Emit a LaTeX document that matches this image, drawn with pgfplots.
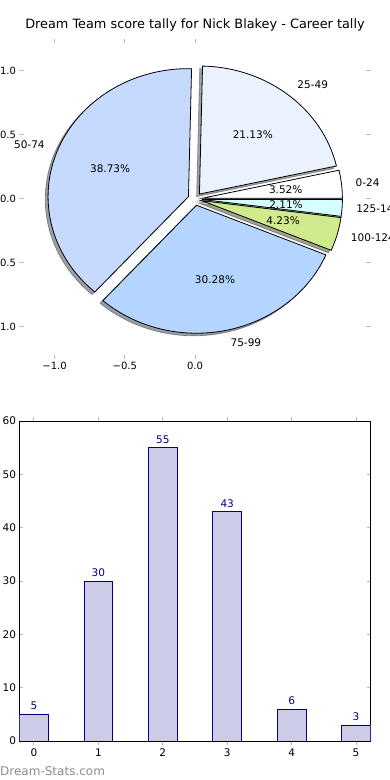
\documentclass[border=0pt]{standalone}
\usepackage{pgfplots}
\usepackage{pgfplotstable}
\pgfplotsset{compat=1.18}
\usepackage{fontspec}
\setmainfont{DejaVu Sans}

\definecolor{c0}{HTML}{FFFFFF}
\definecolor{c1}{HTML}{EBF2FF}
\definecolor{c2}{HTML}{C6D9FF}
\definecolor{c3}{HTML}{B4D5FF}
\definecolor{c4}{HTML}{CFEB8D}
\definecolor{c5}{HTML}{D6FFFF}
\definecolor{barfill}{HTML}{CCCCE6}
\definecolor{navy}{HTML}{000080}
\definecolor{tickgray}{HTML}{BBBBBB}
\definecolor{wmgray}{HTML}{8C8C8C}

\pgfplotstableread{
x count label
0 5 0-24
1 30 25-49
2 55 50-74
3 43 75-99
4 6 100-124
5 3 125-149
}\datatable

\newcommand\cs[1]{\csname #1\endcsname}
\newcommand\shadowslice[1]{%
  \edef\temp{\noexpand\filldraw[fill=c#1!30!black, draw=c#1!30!black, opacity=0.5, line width=0.8pt]
    (axis cs:{\cs{cx#1}-0.02},{\cs{cy#1}-0.02}) -- (axis cs:{\cs{px#1}-0.02},{\cs{py#1}-0.02})
    arc[start angle=\cs{angS#1}, end angle=\cs{angE#1}, x radius=140.4pt, y radius=128pt] -- cycle;}%
  \temp}
\newcommand\slice[1]{%
  \edef\temp{\noexpand\filldraw[fill=c#1, draw=black, line width=0.8pt]
    (axis cs:\cs{cx#1},\cs{cy#1}) -- (axis cs:\cs{px#1},\cs{py#1})
    arc[start angle=\cs{angS#1}, end angle=\cs{angE#1}, x radius=140.4pt, y radius=128pt] -- cycle;}%
  \temp}
\newcommand\slicelabels[1]{%
  \edef\temp{\noexpand\node[anchor=\cs{anc#1}, inner sep=0pt, font=\noexpand\fontsize{10.5}{12}\noexpand\selectfont]
    at (axis cs:\cs{lx#1},\cs{ly#1}) {\cs{lab#1}};
    \noexpand\node[anchor=center, inner sep=0pt, font=\noexpand\fontsize{10.5}{12}\noexpand\selectfont]
    at (axis cs:\cs{qx#1},\cs{qy#1}) {\noexpand\pgfmathprintnumber[fixed,fixed zerofill,precision=2,assume math mode=true]{\cs{pct#1}}\noexpand\%};}%
  \temp}

\begin{document}
\begin{tikzpicture}
\useasboundingbox (0,0) rectangle (390pt,780pt);
% totals and angles from the table
\xdef\total{0}
\foreach \i in {0,...,5}{%
  \pgfplotstablegetelem{\i}{count}\of\datatable
  \pgfmathsetmacro\tmp{\total+\pgfplotsretval}%
  \xdef\total{\tmp}%
}
\xdef\cum{0}
\foreach \i in {0,...,5}{%
  \pgfplotstablegetelem{\i}{count}\of\datatable
  \edef\cnt{\pgfplotsretval}%
  \pgfmathsetmacro\sA{\cum/\total*360}%
  \pgfmathsetmacro\ncum{\cum+\cnt}%
  \pgfmathsetmacro\sB{\ncum/\total*360}%
  \pgfmathsetmacro\sM{(\sA+\sB)/2}%
  \pgfmathsetmacro\cX{0.05*cos(\sM)}%
  \pgfmathsetmacro\cY{0.05*sin(\sM)}%
  \pgfmathsetmacro\pX{\cX+cos(\sA)}%
  \pgfmathsetmacro\pY{\cY+sin(\sA)}%
  \pgfmathsetmacro\lX{1.15*cos(\sM)}%
  \pgfmathsetmacro\lY{1.15*sin(\sM)}%
  \pgfmathsetmacro\qX{0.65*cos(\sM)}%
  \pgfmathsetmacro\qY{0.65*sin(\sM)}%
  \pgfmathsetmacro\pP{\cnt/\total*100}%
  \expandafter\xdef\csname angS\i\endcsname{\sA}%
  \expandafter\xdef\csname angE\i\endcsname{\sB}%
  \expandafter\xdef\csname cx\i\endcsname{\cX}%
  \expandafter\xdef\csname cy\i\endcsname{\cY}%
  \expandafter\xdef\csname px\i\endcsname{\pX}%
  \expandafter\xdef\csname py\i\endcsname{\pY}%
  \expandafter\xdef\csname lx\i\endcsname{\lX}%
  \expandafter\xdef\csname ly\i\endcsname{\lY}%
  \expandafter\xdef\csname qx\i\endcsname{\qX}%
  \expandafter\xdef\csname qy\i\endcsname{\qY}%
  \expandafter\xdef\csname pct\i\endcsname{\pP}%
  \pgfmathparse{cos(\sM)>0 ? 1 : 0}%
  \ifdim\pgfmathresult pt>0.5pt
    \expandafter\xdef\csname anc\i\endcsname{west}%
  \else
    \expandafter\xdef\csname anc\i\endcsname{east}%
  \fi
  \pgfplotstablegetelem{\i}{label}\of\datatable
  \expandafter\xdef\csname lab\i\endcsname{\pgfplotsretval}%
  \xdef\cum{\ncum}%
}

% ---------- pie ----------
\begin{axis}[
  at={(19.5pt,421pt)}, anchor=south west,
  scale only axis, width=351pt, height=320pt,
  xmin=-1.25, xmax=1.25, ymin=-1.25, ymax=1.25,
  clip=false,
  axis line style={draw=none},
  xtick={-1,-0.5,0}, xticklabels={−1.0,−0.5,0.0},
  ytick={-1,-0.5,0,0.5,1}, yticklabels={−1.0,−0.5,0.0,0.5,1.0},
  tick align=inside, major tick length=4pt,
  tick style={draw=tickgray, line width=1pt},
  ticklabel style={font=\fontsize{10}{12}\selectfont},
  title={Dream Team score tally for Nick Blakey - Career tally},
  title style={at={(0.5,1)}, anchor=base, yshift=4.5pt, font=\fontsize{12.85}{15}\selectfont},
]
\shadowslice{0}\shadowslice{1}\shadowslice{2}\shadowslice{3}\shadowslice{4}\shadowslice{5}
\slice{0}\slice{1}\slice{2}\slice{3}\slice{4}\slice{5}
\slicelabels{0}\slicelabels{1}\slicelabels{2}\slicelabels{3}\slicelabels{4}\slicelabels{5}
\end{axis}

% ---------- bars ----------
\begin{axis}[
  at={(19.5pt,39pt)}, anchor=south west,
  scale only axis, width=351pt, height=320pt,
  xmin=-0.225, xmax=5.225, ymin=0, ymax=60,
  xtick={0,1,2,3,4,5}, ytick={0,10,20,30,40,50,60},
  tick align=inside, major tick length=4pt,
  tick style={draw=tickgray, line width=1pt},
  axis line style={draw=black, line width=0.8pt},
  ticklabel style={font=\fontsize{10.5}{12}\selectfont},
  /pgf/number format/assume math mode=true,
  ybar, bar width=0.45, bar shift=0pt,
  nodes near coords,
  nodes near coords style={font=\fontsize{10.5}{12}\selectfont, text=navy, anchor=south, inner sep=0pt, yshift=4pt},
]
\addplot[fill=barfill, draw=navy, line width=0.8pt] table[x=x, y=count] {\datatable};
\end{axis}

\node[anchor=base west, inner sep=0pt, text=wmgray, font=\fontsize{12}{14}\selectfont] at (0,4.5pt) {Dream-Stats.com};
\end{tikzpicture}
\end{document}
